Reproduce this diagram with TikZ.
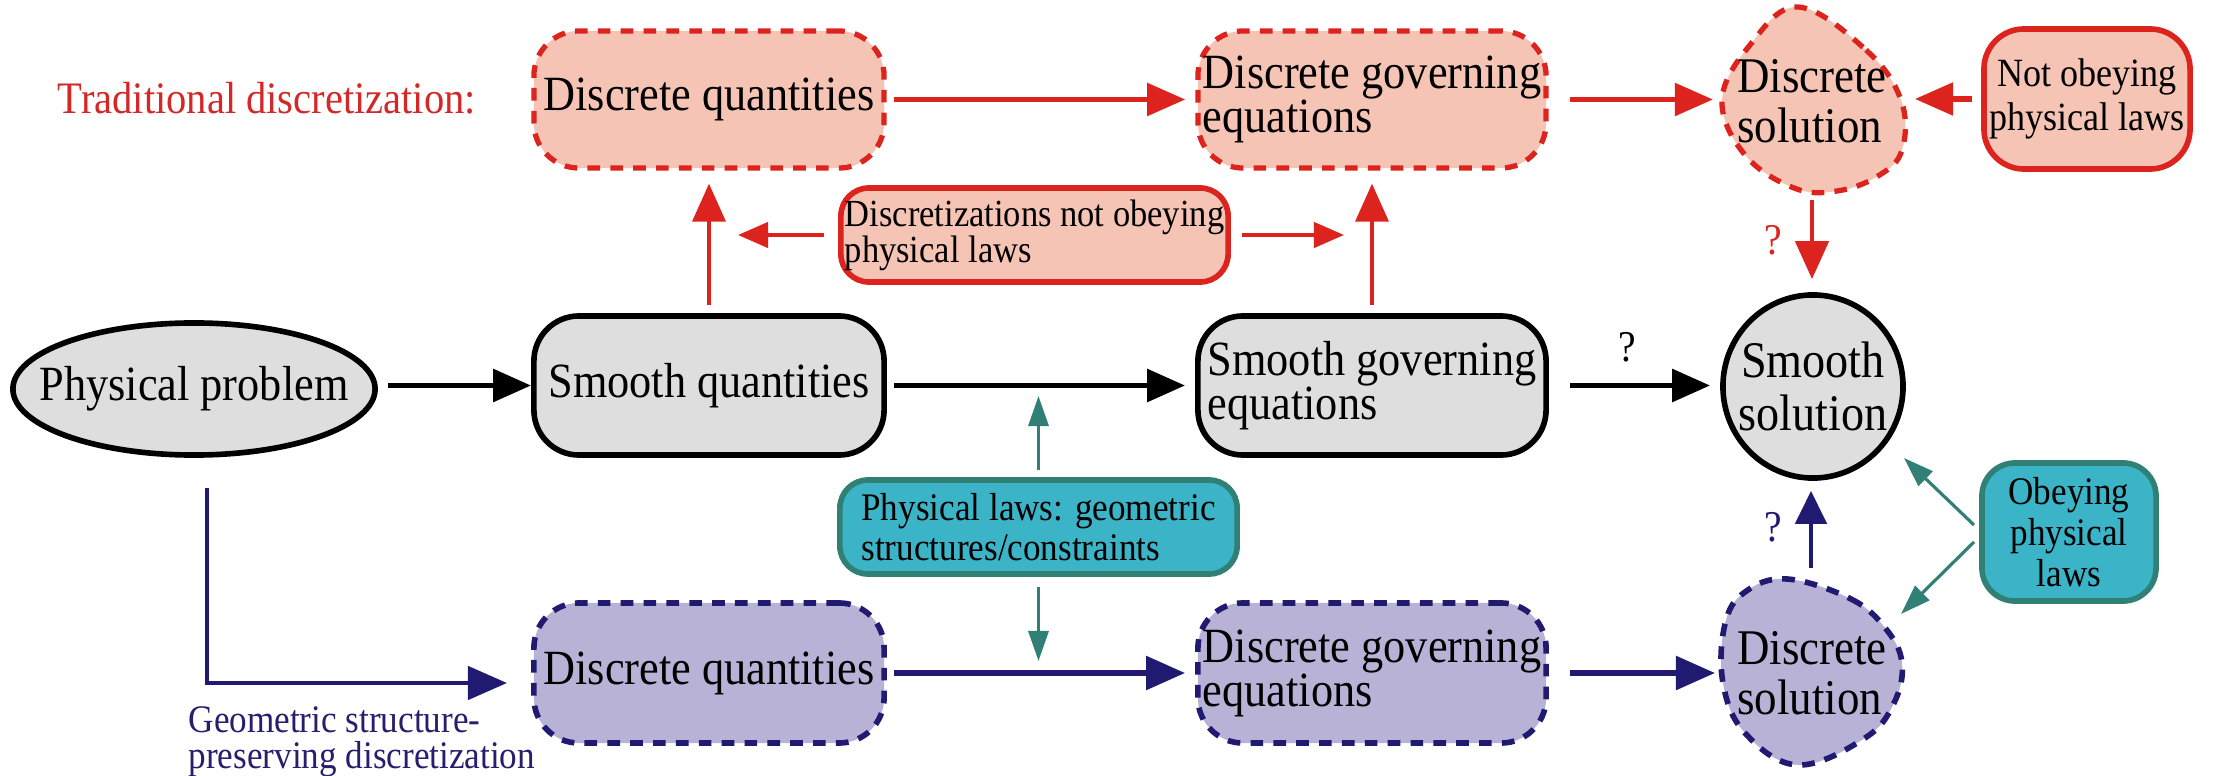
\documentclass[tikz,border=0pt]{standalone}
\usepackage{fontspec}
\setmainfont{Liberation Serif}[FakeStretch=0.9]
\usetikzlibrary{arrows.meta,shapes.geometric}
\definecolor{redline}{RGB}{220,35,30}
\definecolor{redfill}{RGB}{246,196,181}
\definecolor{grayfill}{RGB}{221,222,221}
\definecolor{blueline}{RGB}{32,26,112}
\definecolor{bluefill}{RGB}{184,178,215}
\definecolor{tealfill}{RGB}{58,180,198}
\definecolor{tealline}{RGB}{48,128,118}
\definecolor{redtext}{RGB}{212,40,40}
\definecolor{bluetext}{RGB}{40,30,110}
\tikzset{
  bigtxt/.style={font=\fontsize{14}{12.5}\selectfont},
  soltxt/.style={font=\fontsize{14.4}{14.6}\selectfont},
  smalltxt/.style={font=\fontsize{11.1}{11.4}\selectfont},
  reddash/.style={draw=redline, fill=redfill, line width=1.5pt, dash pattern=on 3.6pt off 2.9pt},
  bluedash/.style={draw=blueline, fill=bluefill, line width=1.6pt, dash pattern=on 3.6pt off 2.9pt},
  redbox/.style={reddash, rounded corners=0.45cm, bigtxt, minimum width=3.5cm, minimum height=1.37cm, inner sep=0pt},
  bluebox/.style={bluedash, rounded corners=0.45cm, bigtxt, minimum width=3.5cm, minimum height=1.40cm, inner sep=0pt},
  graybox/.style={draw=black, fill=grayfill, line width=1.6pt, rounded corners=0.45cm, bigtxt, minimum width=3.5cm, minimum height=1.39cm, inner sep=0pt},
  grayell/.style={ellipse, draw=black, fill=grayfill, line width=1.6pt, inner sep=0pt},
  redsolid/.style={draw=redline, fill=redfill, line width=1.6pt, smalltxt, inner sep=0pt},
  tealbox/.style={draw=tealline, fill=tealfill, line width=1.6pt, smalltxt, inner sep=0pt},
  blkarr/.style={draw=black, line width=1.7pt, -{Triangle[length=0.38cm,width=0.32cm]}},
  redarr/.style={draw=redline, line width=1.5pt, -{Triangle[length=0.38cm,width=0.32cm]}},
  redarrv/.style={draw=redline, line width=1.3pt, -{Triangle[length=0.38cm,width=0.33cm]}},
  redsm/.style={draw=redline, line width=1.2pt, -{Triangle[length=0.30cm,width=0.25cm]}},
  bluearr/.style={draw=blueline, line width=1.6pt, -{Triangle[length=0.39cm,width=0.33cm]}},
  bluearrv/.style={draw=blueline, line width=1.4pt, -{Triangle[length=0.33cm,width=0.31cm]}},
  tealarr/.style={draw=tealline, line width=0.9pt, -{Triangle[length=0.30cm,width=0.20cm]}},
  qmark/.style={font=\fontsize{12.5}{13}\selectfont}
}
\begin{document}
\begin{tikzpicture}[x=0.01cm, y=-0.01cm]
\path[use as bounding box, fill=white] (0,0) rectangle (2226,776);

% Traditional row
\node[anchor=west, inner sep=0pt, text=redtext, font=\fontsize{12.8}{12}\selectfont] (trad) at (57,98) {Traditional discretization:};
\node[redbox] (dq1) at (709,99.5) {Discrete quantities};
\node[redbox, minimum width=3.48cm, align=left] (dge1) at (1372,99.5) {Discrete governing\\equations};
\draw[reddash] plot[smooth cycle, tension=0.65] coordinates {(1798,7) (1866,50) (1901,100) (1902,150) (1878,176) (1837,191) (1794,188) (1745,155) (1722,100) (1750,45)};
\node[soltxt, align=left, font=\fontsize{14.2}{14.1}\selectfont] (ds1) at (1812,101) {Discrete\\solution};
\node[redsolid, rounded corners=0.4cm, minimum width=2.06cm, minimum height=1.40cm, align=center, font=\fontsize{11.4}{12.4}\selectfont] (no) at (2087,99) {Not obeying\\physical laws};
\node[redsolid, rounded corners=0.28cm, minimum width=3.87cm, minimum height=0.94cm, align=left, font=\fontsize{10.9}{10.2}\selectfont] (dn) at (1034.5,235) {Discretizations not obeying\\physical laws};

% Smooth row
\node[grayell, minimum width=3.62cm, minimum height=1.32cm] (pp) at (194,389) {};
\node[bigtxt] (ppt) at (pp.center) {Physical problem};
\node[graybox] (sq) at (709,385.5) {Smooth quantities};
\node[graybox, minimum width=3.48cm, align=left] (sge) at (1372,385.5) {Smooth governing\\equations};
\node[grayell, minimum width=1.80cm, minimum height=1.83cm] (ss) at (1813,386.5) {};
\node[soltxt, align=center, font=\fontsize{14.6}{14.9}\selectfont] (sst) at (ss.center) {Smooth\\solution};

% Physical laws
\node[tealbox, rounded corners=0.28cm, minimum width=3.97cm, minimum height=0.94cm, align=left] (pl) at (1038.5,527) {Physical laws: geometric\\structures/constraints};
\node[tealbox, rounded corners=0.33cm, minimum width=1.74cm, minimum height=1.38cm, align=center, font=\fontsize{11.1}{11.7}\selectfont] (ob) at (2069,532) {Obeying\\physical\\laws};

% Structure-preserving row
\node[bluebox] (dq2) at (709,673) {Discrete quantities};
\node[bluebox, minimum width=3.48cm, align=left] (dge2) at (1372,673) {Discrete governing\\equations};
\draw[bluedash] plot[smooth cycle, tension=0.65] coordinates {(1787,579) (1851,599) (1886,629) (1902,663) (1894,703) (1865,738) (1798,765) (1745,733) (1723,683) (1725,624) (1745,592)};
\node[soltxt, align=left, font=\fontsize{14.2}{14.1}\selectfont] (ds2) at (1812,673) {Discrete\\solution};
\node[anchor=west, inner sep=0pt, text=bluetext, align=left, font=\fontsize{11.1}{10.2}\selectfont] (geo) at (188,742) {Geometric structure-\\preserving discretization};

% named free ends
\coordinate (ds1w) at (1713,99.5);
\coordinate (ds1e) at (1915,99);
\coordinate (ds1s) at (1812,200);
\coordinate (dnl) at (738,235);
\coordinate (dnr) at (1344,235);
\coordinate (plu) at (1038.5,396);
\coordinate (pld) at (1038.5,661);
\coordinate (bqend) at (507,683);
\coordinate (ds2w) at (1715,673);
\coordinate (ds2n) at (1811,568);
\coordinate (ob1) at (1974,525);
\coordinate (ob2) at (1974,542);
\coordinate (sstip) at (1904,458);
\coordinate (ds2tip) at (1901,614);

% connectors: smooth row
\draw[blkarr, shorten <=0.1cm] (pp.east |- sq.west) -- (sq.west);
\draw[blkarr, shorten <=0.07cm, shorten >=0.1cm] (sq.east) -- (sge.west);
\draw[blkarr, shorten <=0.21cm, shorten >=0.1cm] (sge.east) -- (sge.east -| ss.west);
\node[qmark] (q1) at (1627,347) {?};

% traditional row
\draw[redarr, shorten <=0.07cm, shorten >=0.1cm] (dq1.east) -- (dge1.west);
\draw[redarr, shorten <=0.21cm] (dge1.east) -- (ds1w);
\draw[redarr, shorten <=0.09cm] (no.west |- ds1e) -- (ds1e);
\draw[redarrv, shorten >=0.13cm] (ds1s) -- (ds1s |- ss.north);
\node[qmark, text=redline] (q2) at (1773,240) {?};
\draw[redarrv, line width=1.1pt, shorten <=0.08cm, shorten >=0.13cm] (sq.north) -- (dq1.south);
\draw[redarrv, line width=1.1pt, shorten <=0.08cm, shorten >=0.13cm] (sge.north) -- (dge1.south);
\draw[redsm, shorten <=0.14cm] (dn.west) -- (dnl);
\draw[redsm, shorten <=0.11cm] (dn.east) -- (dnr);

% physical laws
\draw[tealarr, shorten <=0.07cm] (pl.north) -- (plu);
\draw[tealarr, shorten <=0.1cm] (pl.south) -- (pld);
\draw[tealarr] (ob1) -- (sstip);
\draw[tealarr] (ob2) -- (ds2tip);

% structure-preserving row
\draw[bluearr, line width=1.3pt, shorten <=0.3cm] ([xshift=0.13cm]pp.south) |- (bqend);
\draw[bluearr, shorten <=0.07cm, shorten >=0.1cm] (dq2.east) -- (dge2.west);
\draw[bluearr, shorten <=0.21cm] (dge2.east) -- (ds2w);
\draw[bluearrv, shorten >=0.1cm] (ds2n) -- (ds2n |- ss.south);
\node[qmark, text=blueline] (q3) at (1773,527) {?};
\end{tikzpicture}
\end{document}
